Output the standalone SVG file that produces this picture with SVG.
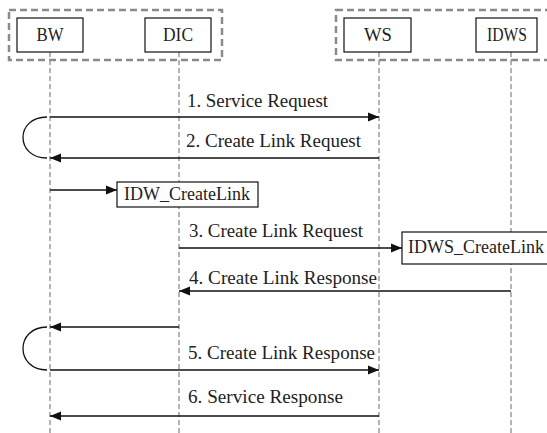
<svg xmlns="http://www.w3.org/2000/svg" width="547" height="433" viewBox="0 0 547 433">
<style>
.grp{fill:none;stroke:#8a8a8a;stroke-width:2.5;stroke-dasharray:7,4}
.life{fill:none;stroke:#9a9a9a;stroke-width:1.5;stroke-dasharray:5,3}
.box{fill:#fff;stroke:#111;stroke-width:1.2}
.msg{fill:none;stroke:#111;stroke-width:1.3}
</style>
<defs>
<marker id="ah" viewBox="0 0 11 10" refX="11" refY="5" markerWidth="11" markerHeight="10" markerUnits="userSpaceOnUse" orient="auto">
<path d="M0,0.5 L11,5 L0,9.5 z" fill="#111"/>
</marker>
</defs>
<g id="groups">
<rect class="grp" x="9" y="10" width="213" height="50"/>
<rect class="grp" x="336" y="10" width="220" height="50"/>
</g>
<g id="lifelines">
<line class="life" x1="50" y1="52" x2="50" y2="433"/>
<line class="life" x1="179" y1="52" x2="179" y2="433"/>
<line class="life" x1="379" y1="52" x2="379" y2="433"/>
<line class="life" x1="511" y1="52" x2="511" y2="433"/>
</g>
<g id="BW"><rect class="box" x="17" y="18" width="66" height="34"/><text font-family="Liberation Serif" font-size="18" fill="#222" text-anchor="middle" x="50" y="41" textLength="27" lengthAdjust="spacingAndGlyphs">BW</text></g>
<g id="DIC"><rect class="box" x="145" y="18" width="66" height="34"/><text font-family="Liberation Serif" font-size="18" fill="#222" text-anchor="middle" x="178" y="41" textLength="30" lengthAdjust="spacingAndGlyphs">DIC</text></g>
<g id="WS"><rect class="box" x="344" y="18" width="67" height="34"/><text font-family="Liberation Serif" font-size="18" fill="#222" text-anchor="middle" x="378" y="41" textLength="28" lengthAdjust="spacingAndGlyphs">WS</text></g>
<g id="IDWS"><rect class="box" x="476" y="18" width="61" height="34"/><text font-family="Liberation Serif" font-size="18" fill="#222" text-anchor="middle" x="507" y="41" textLength="40" lengthAdjust="spacingAndGlyphs">IDWS</text></g>
<g id="connectors">
<line class="msg" x1="50" y1="117" x2="379" y2="117" marker-end="url(#ah)"/>
<path class="msg" d="M47,117 C15,117 15,158 47,158"/>
<line class="msg" x1="379" y1="158" x2="50" y2="158" marker-end="url(#ah)"/>
<line class="msg" x1="50" y1="190" x2="117" y2="190" marker-end="url(#ah)"/>
<line class="msg" x1="179" y1="248" x2="402" y2="248" marker-end="url(#ah)"/>
<line class="msg" x1="511" y1="291" x2="179" y2="291" marker-end="url(#ah)"/>
<line class="msg" x1="179" y1="327" x2="50" y2="327" marker-end="url(#ah)"/>
<path class="msg" d="M47,327 C15,327 15,370 47,370"/>
<line class="msg" x1="50" y1="370" x2="379" y2="370" marker-end="url(#ah)"/>
<line class="msg" x1="379" y1="416" x2="50" y2="416" marker-end="url(#ah)"/>
</g>
<g id="labels">
<text font-family="Liberation Serif" font-size="18" fill="#222" x="187" y="107" textLength="141" lengthAdjust="spacingAndGlyphs">1. Service Request</text>
<text font-family="Liberation Serif" font-size="18" fill="#222" x="186" y="147" textLength="175" lengthAdjust="spacingAndGlyphs">2. Create Link Request</text>
<text font-family="Liberation Serif" font-size="18" fill="#222" x="189" y="237" textLength="174" lengthAdjust="spacingAndGlyphs">3. Create Link Request</text>
<text font-family="Liberation Serif" font-size="18" fill="#222" x="189" y="284" textLength="188" lengthAdjust="spacingAndGlyphs">4. Create Link Response</text>
<text font-family="Liberation Serif" font-size="18" fill="#222" x="188" y="359" textLength="187" lengthAdjust="spacingAndGlyphs">5. Create Link Response</text>
<text font-family="Liberation Serif" font-size="18" fill="#222" x="188" y="403" textLength="155" lengthAdjust="spacingAndGlyphs">6. Service Response</text>
</g>
<g id="IDW_CreateLink"><rect class="box" x="117" y="182" width="141" height="25"/><text font-family="Liberation Serif" font-size="18" fill="#222" x="124" y="200" textLength="126" lengthAdjust="spacingAndGlyphs">IDW_CreateLink</text></g>
<g id="IDWS_CreateLink"><rect class="box" x="402" y="232" width="150" height="32"/><text font-family="Liberation Serif" font-size="18" fill="#222" x="408" y="253" textLength="136" lengthAdjust="spacingAndGlyphs">IDWS_CreateLink</text></g>
</svg>
